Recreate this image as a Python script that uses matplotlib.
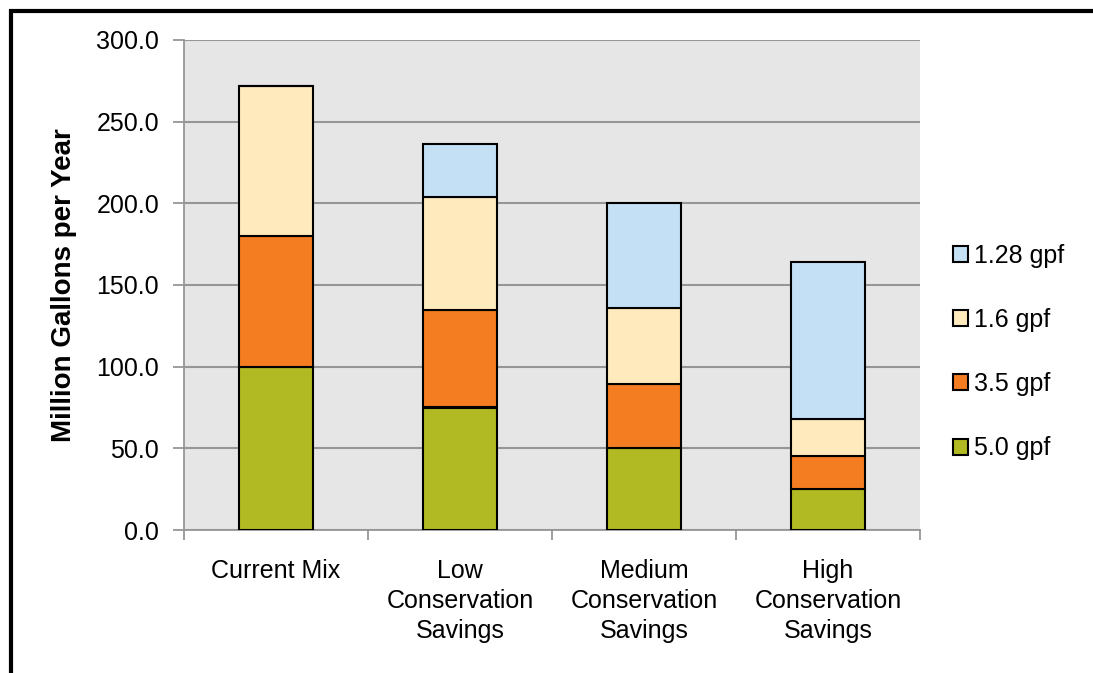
import matplotlib
matplotlib.use("Agg")
import matplotlib.pyplot as plt
import numpy as np
from matplotlib.patches import Rectangle

plt.rcParams['font.family'] = ['Liberation Sans', 'DejaVu Sans']

categories = ["Current Mix", "Low\nConservation\nSavings", "Medium\nConservation\nSavings",
              "High\nConservation\nSavings"]
series_names = ["5.0 gpf", "3.5 gpf", "1.6 gpf", "1.28 gpf"]
gpf_50 = [100.0, 75.0, 50.0, 25.0]
gpf_35 = [80.0, 59.5, 39.5, 20.0]
gpf_16 = [92.0, 69.5, 46.5, 23.0]
gpf_128 = [0.0, 32.5, 64.5, 96.0]
series_values = [gpf_50, gpf_35, gpf_16, gpf_128]
colors = ["#b1b923", "#f47d21", "#feeabd", "#c3e0f5"]
y_ticks = [0, 50, 100, 150, 200, 250, 300]

FS = 18
W, H = 1093, 673
fig = plt.figure(figsize=(W / 100, H / 100), dpi=100)
ax = fig.add_axes([184 / W, 1 - 530 / H, (920 - 184) / W, (530 - 40) / H])
ax.set_facecolor("#e6e6e6")

x = np.arange(len(categories))
bottom = np.zeros(len(categories))
handles = []
for name, vals, col in zip(series_names, series_values, colors):
    vals = np.array(vals)
    bars = ax.bar(x, vals, width=0.40, bottom=bottom, color=col,
                  edgecolor="black", linewidth=1.5, label=name, zorder=3)
    handles.append(bars)
    bottom += vals

ax.set_xlim(-0.5, len(categories) - 0.5)
ax.set_ylim(0, 300)
ax.set_yticks(y_ticks)
ax.set_yticklabels([f"{v:.1f}" for v in y_ticks], fontsize=FS)
ax.yaxis.grid(True, color="#969696", linewidth=1.5, zorder=0)
ax.set_axisbelow(True)

ax.set_xticks(x)
ax.set_xticklabels(categories, fontsize=FS, linespacing=1.32)
ax.set_xticks(np.arange(-0.5, len(categories)), minor=True)
ax.tick_params(axis="x", which="major", length=0, pad=21)
ax.tick_params(axis="x", which="minor", length=7, width=1.3, color="#969696", direction="out")
ax.tick_params(axis="y", length=8, width=1.3, color="#969696", direction="out", pad=10)

for s in ["top", "right"]:
    ax.spines[s].set_visible(False)
for s in ["left", "bottom"]:
    ax.spines[s].set_color("#969696")
    ax.spines[s].set_linewidth(1.3)

ax.set_ylabel("Million Gallons per Year", fontsize=20, fontweight="bold", labelpad=14)

leg = fig.legend(handles[::-1], series_names[::-1], loc="center left",
                 bbox_to_anchor=(943 / W, 1 - 352 / H), frameon=False,
                 fontsize=FS, handlelength=0.6, handleheight=0.6,
                 handletextpad=0.25, labelspacing=1.61, borderaxespad=0)

# outer frame around the chart
fig.patches.append(Rectangle((11 / W, -0.1), 1.2, 1 - 11 / H + 0.1, transform=fig.transFigure,
                             fill=False, edgecolor="black", linewidth=3, clip_on=False))

fig.savefig("out.png", dpi=100)
